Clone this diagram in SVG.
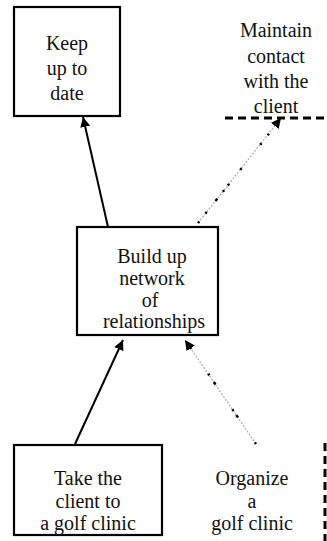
<svg xmlns="http://www.w3.org/2000/svg" width="327" height="541" viewBox="0 0 327 541">
  <style>
    .box { fill: #fff; stroke: #000; stroke-width: 2.2; }
    .solid { stroke: #000; stroke-width: 2; fill: none; }
    .dot-base { stroke: #aaa; stroke-width: 1.2; stroke-dasharray: 2 1.5; fill: none; }
    .dot-mark { stroke: #000; stroke-width: 2.4; fill: none; }
    .rule { stroke: #000; stroke-width: 3; stroke-dasharray: 8 5; fill: none; }
  </style>
  <defs>
    <marker id="head" viewBox="0 0 10 10" refX="10" refY="5" markerWidth="10" markerHeight="10" markerUnits="userSpaceOnUse" orient="auto">
      <path d="M0,0 L10,5 L0,10 Z" fill="#000"/>
    </marker>
  </defs>
  <rect width="327" height="541" fill="#fff"/>

  <!-- connectors -->
  <g id="connectors">
    <!-- Build up network -> Keep up to date -->
    <line class="solid" x1="108" y1="227" x2="83" y2="117" marker-end="url(#head)"/>
    <!-- Take the client -> Build up network -->
    <line class="solid" x1="75" y1="444" x2="123" y2="340" marker-end="url(#head)"/>
    <!-- Build up network -> Maintain contact (dotted) -->
    <line class="dot-base" x1="198" y1="223" x2="281" y2="118" marker-end="url(#head)"/>
    <line class="dot-mark" x1="198" y1="223" x2="272" y2="130" stroke-dasharray="2 10 2 14 3 9 2 6 2 18 2 30"/>
    <!-- Organize a golf clinic -> Build up network (dotted) -->
    <line class="dot-base" x1="256" y1="444" x2="185" y2="340" marker-end="url(#head)"/>
    <line class="dot-mark" x1="256" y1="444" x2="190" y2="347" stroke-dasharray="2 30 3 5 2 30 3 8 2 30"/>
    <!-- dashed rules -->
    <line class="rule" x1="225" y1="118" x2="327" y2="118"/>
    <line class="rule" x1="325" y1="443" x2="325" y2="541"/>
  </g>

  <g font-family="'Liberation Serif', 'Times New Roman', Times, serif" font-size="20" fill="#111" text-anchor="middle">
    <g id="keep">
      <rect class="box" x="14" y="7" width="106" height="109"/>
      <text x="67" y="50">Keep</text>
      <text x="67" y="75">up to</text>
      <text x="67" y="100">date</text>
    </g>

    <g id="maintain">
      <text x="276" y="37">Maintain</text>
      <text x="276" y="63">contact</text>
      <text x="276" y="88">with the</text>
      <text x="276" y="113">client</text>
    </g>

    <g id="build">
      <rect class="box" x="77" y="227" width="141" height="108"/>
      <text x="152" y="263">Build up</text>
      <text x="152" y="285">network</text>
      <text x="150" y="307">of</text>
      <text x="154" y="328">relationships</text>
    </g>

    <g id="take">
      <rect class="box" x="14" y="445" width="148" height="90"/>
      <text x="88" y="485">Take the</text>
      <text x="88" y="508">client to</text>
      <text x="88" y="530">a golf clinic</text>
    </g>

    <g id="organize">
      <text x="252" y="485">Organize</text>
      <text x="252" y="508">a</text>
      <text x="252" y="530">golf clinic</text>
    </g>
  </g>
</svg>
